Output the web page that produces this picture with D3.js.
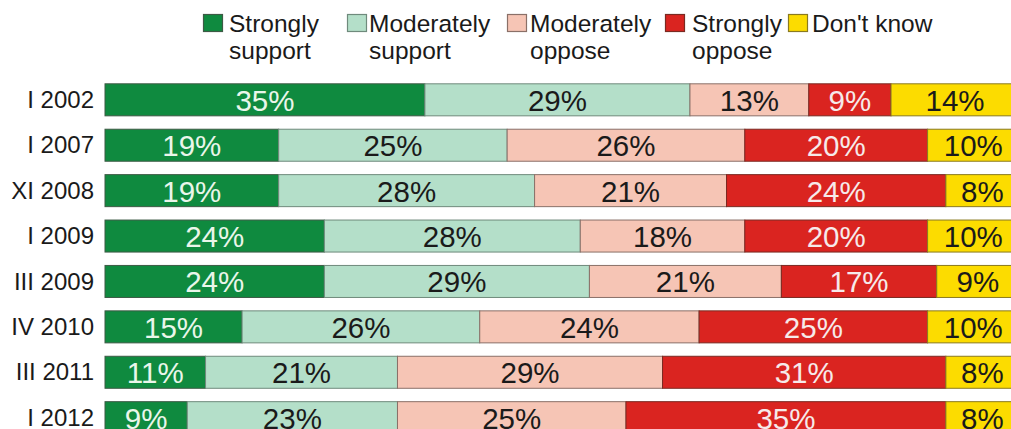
<!DOCTYPE html>
<html>
<head>
<meta charset="utf-8">
<script src="https://cdn.jsdelivr.net/npm/d3@7"></script>
<style>
  html, body { margin: 0; padding: 0; background: #fff; }
  svg { display: block; font-family: "Liberation Sans", Arial, sans-serif; }
</style>
</head>
<body>
<svg id="chart" width="1011" height="429"></svg>
<script>
// Data
const periods = ["I 2002", "I 2007", "XI 2008", "I 2009", "III 2009", "IV 2010", "III 2011", "I 2012"];
const seriesNames = ["Strongly support", "Moderately support", "Moderately oppose", "Strongly oppose", "Don't know"];
const legendLines = [["Strongly", "support"], ["Moderately", "support"], ["Moderately", "oppose"], ["Strongly", "oppose"], ["Don't know"]];
const stronglySupport   = [35, 19, 19, 24, 24, 15, 11, 9];
const moderatelySupport = [29, 25, 28, 28, 29, 26, 21, 23];
const moderatelyOppose  = [13, 26, 21, 18, 21, 24, 29, 25];
const stronglyOppose    = [9, 20, 24, 20, 17, 25, 31, 35];
const dontKnow          = [14, 10, 8, 10, 9, 10, 8, 8];

const colors = ["#0f8a3f", "#b4dfc9", "#f6c5b5", "#da2420", "#fcdc00"];
const strokes = ["#3d5a45", "#6f8a7c", "#8a7068", "#7a2a22", "#8a7a20"];
const textColors = ["#eaf6ea", "#1a1a1a", "#1a1a1a", "#f6eaea", "#1a1a1a"];

const allSeries = [stronglySupport, moderatelySupport, moderatelyOppose, stronglyOppose, dontKnow];
const rows = periods.map((p, i) => {
  const r = { period: p };
  seriesNames.forEach((s, k) => r[s] = allSeries[k][i]);
  return r;
});

const svg = d3.select("#chart");
const x = d3.scaleLinear().domain([0, 100]).range([105, 1019]);
const y = d3.scaleBand().domain(periods).range([77, 440.5]).paddingInner(0.295).paddingOuter(0.15);

const stack = d3.stack().keys(seriesNames)(rows);

const layers = svg.append("g").selectAll("g").data(stack).join("g");
layers.each(function(layer, k) {
  const g = d3.select(this);
  g.selectAll("rect").data(layer).join("rect")
    .attr("x", d => x(d[0]))
    .attr("y", d => y(d.data.period))
    .attr("width", d => x(d[1]) - x(d[0]))
    .attr("height", y.bandwidth())
    .attr("fill", colors[k])
    .attr("stroke", strokes[k])
    .attr("stroke-width", 1);
  g.selectAll("text").data(layer).join("text")
    .attr("x", d => (x(d[0]) + x(d[1])) / 2)
    .attr("y", d => y(d.data.period) + y.bandwidth() / 2 + 11)
    .attr("text-anchor", "middle")
    .attr("font-size", 29.5)
    .attr("fill", textColors[k])
    .text(d => (d[1] - d[0]) + "%");
});

// Category axis
const yAxis = d3.axisLeft(y).tickSize(0).tickPadding(0);
const ag = svg.append("g").attr("transform", "translate(94,0)").call(yAxis);
ag.select(".domain").remove();
ag.selectAll("text")
  .attr("font-size", 24)
  .attr("font-family", "Liberation Sans, Arial, sans-serif")
  .attr("fill", "#1a1a1a")
  .attr("dy", "0.34em");

// Legend
const legendX = [203, 347, 507, 665, 788];
const legendTextDx = [26, 22, 23, 27, 24];
const lg = svg.append("g");
seriesNames.forEach((s, k) => {
  const g = lg.append("g").attr("transform", `translate(${legendX[k]},0)`);
  g.append("rect").attr("x", 0.5).attr("y", 14.5).attr("width", 19).attr("height", 17)
    .attr("fill", colors[k]).attr("stroke", strokes[k]).attr("stroke-width", 1.2);
  legendLines[k].forEach((t, j) => {
    g.append("text").attr("x", legendTextDx[k])
      .attr("y", 32 + j * 27)
      .attr("font-size", 24.5)
      .attr("fill", "#1a1a1a")
      .text(t);
  });
});
</script>
</body>
</html>
